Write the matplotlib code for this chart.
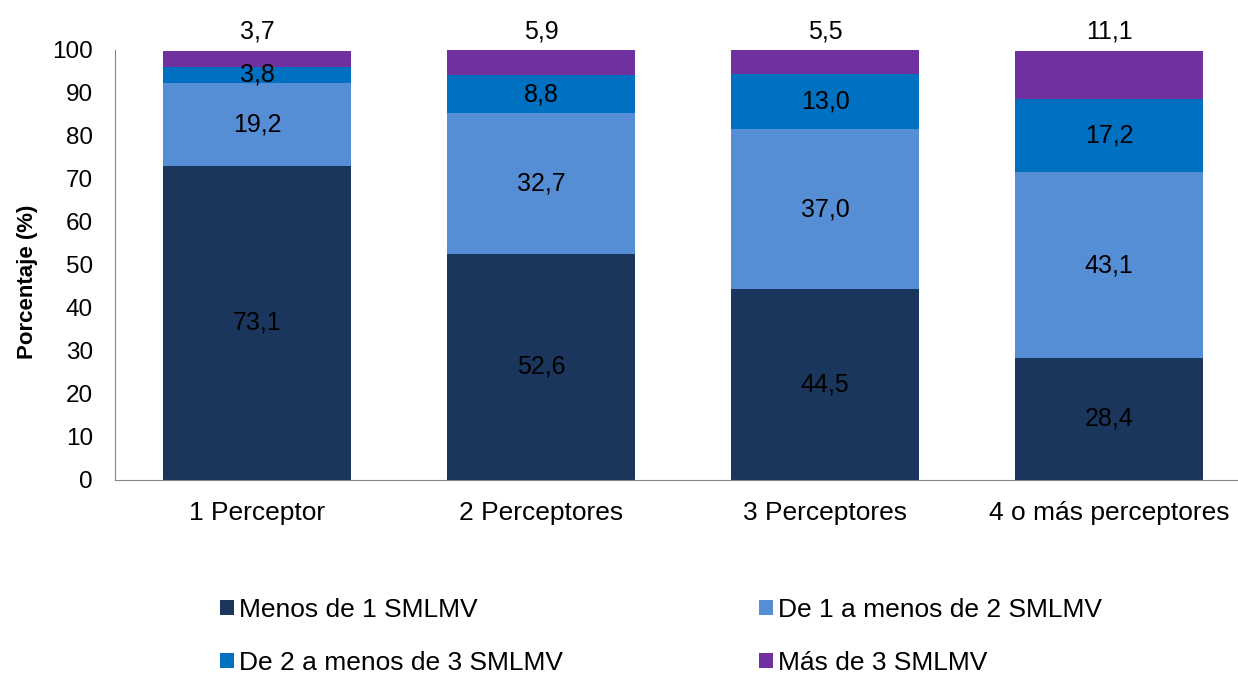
import matplotlib.pyplot as plt
from matplotlib.patches import Patch
import numpy as np

plt.rcParams['font.family'] = ['Liberation Sans', 'DejaVu Sans']

categories = ['1 Perceptor', '2 Perceptores', '3 Perceptores', '4 o más perceptores']
series_names = ['Menos de 1 SMLMV', 'De 1 a menos de 2 SMLMV',
                'De 2 a menos de 3 SMLMV', 'Más de 3 SMLMV']
menos_1 = [73.1, 52.6, 44.5, 28.4]
de_1_a_2 = [19.2, 32.7, 37.0, 43.1]
de_2_a_3 = [3.8, 8.8, 13.0, 17.2]
mas_3 = [3.7, 5.9, 5.5, 11.1]
colors = ['#1b365d', '#558ed5', '#0070c0', '#7030a0']

fig = plt.figure(figsize=(12.38, 6.73), dpi=100)
ax = fig.add_axes([0.0929, 0.2868, 0.9176, 0.639])

x = np.arange(len(categories))
bottom = np.zeros(len(categories))
all_series = [menos_1, de_1_a_2, de_2_a_3, mas_3]
for i, vals in enumerate(all_series):
    vals = np.array(vals)
    ax.bar(x, vals, 0.665, bottom=bottom, color=colors[i], edgecolor='none')
    for xi, b, v in zip(x, bottom, vals):
        txt = f'{v:.1f}'.replace('.', ',')
        if i == 3:
            # top segment value is written above the bar
            ax.text(xi, 104.3, txt, ha='center', va='center', fontsize=18)
        else:
            ax.text(xi, b + v / 2, txt, ha='center', va='center', fontsize=18)
    bottom += vals

ax.set_xlim(-0.5, 3.5)
ax.set_ylim(0, 100)
ax.set_yticks(range(0, 101, 10))
ax.set_xticks(x)
ax.set_xticklabels(categories)
ax.tick_params(axis='both', length=0)
ax.tick_params(axis='x', pad=15, labelsize=19)
ax.tick_params(axis='y', pad=16, labelsize=17.5)
ax.set_ylabel('Porcentaje (%)', fontsize=16, fontweight='bold')
ax.yaxis.set_label_coords(-0.0678, 0.4616)
for s in ['top', 'right']:
    ax.spines[s].set_visible(False)
for s in ['left', 'bottom']:
    ax.spines[s].set_color('#868686')

# legend fills column by column, so reorder to get the reference row layout
order = [0, 2, 1, 3]
handles = [Patch(facecolor=colors[k], edgecolor='none') for k in order]
labels = [series_names[k] for k in order]
fig.legend(handles, labels, loc='lower left', bbox_to_anchor=(0.1585, -0.038),
           ncol=2, frameon=False, fontsize=19, handlelength=0.53, handleheight=0.53,
           handletextpad=0.19, columnspacing=7.42, labelspacing=1.1)

fig.savefig('out.png', dpi=100)
